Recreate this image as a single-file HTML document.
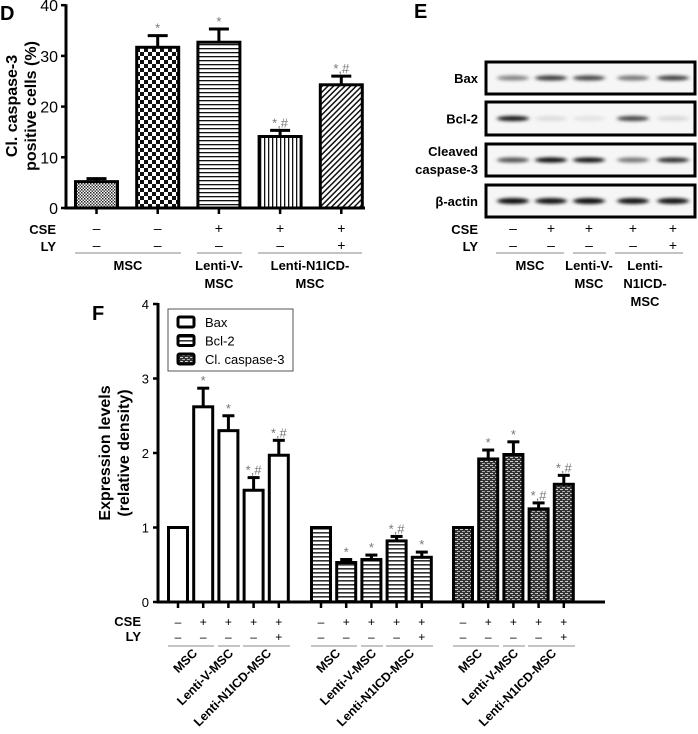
<!DOCTYPE html>
<html><head><meta charset="utf-8"><style>
body{margin:0;background:#fff;}
svg{display:block;font-family:"Liberation Sans",Arial,sans-serif;}
</style></head><body>
<svg id="fig" width="698" height="734" viewBox="0 0 698 734">
<defs>
<pattern id="pFine" width="3" height="3" patternUnits="userSpaceOnUse"><rect width="3" height="3" fill="#fff"/><rect width="1.5" height="1.5" fill="#222"/><rect x="1.5" y="1.5" width="1.5" height="1.5" fill="#444"/></pattern>
<pattern id="pCheck" width="8" height="8" patternUnits="userSpaceOnUse"><rect width="8" height="8" fill="#fff"/><rect width="4" height="4" fill="#111"/><rect x="4" y="4" width="4" height="4" fill="#111"/></pattern>
<pattern id="pHoriz" width="4" height="4" patternUnits="userSpaceOnUse"><rect width="4" height="4" fill="#fff"/><rect y="0" width="4" height="1.3" fill="#111"/></pattern>
<pattern id="pVert" width="4" height="4" patternUnits="userSpaceOnUse"><rect width="4" height="4" fill="#fff"/><rect x="0" width="1.3" height="4" fill="#111"/></pattern>
<pattern id="pDiag" width="4" height="4" patternUnits="userSpaceOnUse" patternTransform="rotate(45)"><rect width="4" height="4" fill="#fff"/><rect width="1.5" height="4" fill="#111"/></pattern>
<pattern id="pHoriz2" width="4" height="4" patternUnits="userSpaceOnUse"><rect width="4" height="4" fill="#fff"/><rect y="0" width="4" height="1.6" fill="#333"/></pattern>
<pattern id="pCasp" width="5" height="4" patternUnits="userSpaceOnUse"><rect width="5" height="4" fill="#333"/><rect x="0" y="1" width="3" height="1" fill="#ccc"/><rect x="2" y="3" width="3" height="1" fill="#aaa"/></pattern>
<filter id="blur" x="-20%" y="-100%" width="140%" height="300%"><feGaussianBlur stdDeviation="2.2 1.6"/></filter>
</defs>
<g id="panelD"></g>
<g id="panelE"></g>
<g id="panelF"></g>
</svg>
<script>
// ---- Panel D data ----
const dCategories = ["MSC","MSC","Lenti-V-MSC","Lenti-N1ICD-MSC","Lenti-N1ICD-MSC"];
const dValues = [5.2, 31.7, 32.7, 14.1, 24.3];
const dErrors = [0.6, 2.3, 2.6, 1.2, 1.7];
const dMarks = ["", "*", "*", "*,#", "*,#"];
const dCSE = ["\u2013","\u2013","+","+","+"];
const dLY = ["\u2013","\u2013","\u2013","\u2013","+"];
const dTicks = [0, 10, 20, 30, 40];
// ---- Panel F data ----
const fSeries = ["Bax","Bcl-2","Cl. caspase-3"];
const fBax = [1, 2.62, 2.30, 1.50, 1.97];
const fBaxErr = [0, 0.25, 0.20, 0.17, 0.20];
const fBcl = [1, 0.53, 0.57, 0.82, 0.60];
const fBclErr = [0, 0.04, 0.06, 0.06, 0.07];
const fCasp = [1, 1.92, 1.98, 1.25, 1.58];
const fCaspErr = [0, 0.12, 0.17, 0.08, 0.12];
const fBaxMarks = ["", "*", "*", "*,#", "*,#"];
const fBclMarks = ["", "*", "*", "*,#", "*"];
const fCaspMarks = ["", "*", "*", "*,#", "*,#"];
const fTicks = [0, 1, 2, 3, 4];
const fCSE = ["\u2013","+","+","+","+"];
const fLY = ["\u2013","\u2013","\u2013","\u2013","+"];
const fLabels = ["MSC","Lenti-V-MSC","Lenti-N1ICD-MSC"];
// ---- Panel E band intensities (0..1) ----
const eRows = ["Bax","Bcl-2","Cleaved caspase-3","\u03b2-actin"];
const eBax = [0.45, 0.75, 0.7, 0.5, 0.72];
const eBcl = [0.9, 0.1, 0.08, 0.7, 0.12];
const eCasp = [0.65, 0.95, 0.92, 0.5, 0.8];
const eActin = [0.95, 0.92, 0.95, 0.92, 0.92];

const NS = "http://www.w3.org/2000/svg";
function mk(parent, tag, attrs, text){
  const e = document.createElementNS(NS, tag);
  for (const k in attrs) e.setAttribute(k, attrs[k]);
  if (text !== undefined) e.textContent = text;
  parent.appendChild(e);
  return e;
}

// ===== Panel D =====
(function(){
  const g = document.getElementById('panelD');
  const y0 = 208, pxPer = 5.07, axX = 66;
  const yD = v => y0 - v * pxPer;
  const xD = i => 96.5 + i * 61.2;
  const pats = ["url(#pFine)","url(#pCheck)","url(#pHoriz)","url(#pVert)","url(#pDiag)"];
  let t = mk(g, 'text', {x: 0, y: 20, 'font-size': 20, 'font-weight': 'bold'}, 'D');
   
  const yl = mk(g, 'text', {transform: 'translate(20,106) rotate(-90)', 'text-anchor': 'middle', 'font-size': 16, 'font-weight': 'bold'});
   
  mk(yl, 'tspan', {x: 0, dy: -3}, 'Cl. caspase-3');
  mk(yl, 'tspan', {x: 0, dy: 19}, 'positive cells (%)');
  mk(g, 'line', {x1: axX, y1: yD(40) - 1, x2: axX, y2: y0 + 1.5, stroke: '#000', 'stroke-width': 3});
  mk(g, 'line', {x1: axX, y1: y0, x2: 365, y2: y0, stroke: '#000', 'stroke-width': 3});
  dTicks.forEach(v => {
    mk(g, 'line', {x1: axX - 5, y1: yD(v), x2: axX, y2: yD(v), stroke: '#000', 'stroke-width': 2.5});
    const tt = mk(g, 'text', {x: 58, y: yD(v) + 6, 'text-anchor': 'end', 'font-size': 16}, String(v));
     
  });
  dValues.forEach((v, i) => {
    const cx = xD(i), w = 42;
    const eb = yD(v + dErrors[i]);
    mk(g, 'line', {x1: cx, y1: eb, x2: cx, y2: yD(v), stroke: '#000', 'stroke-width': 3});
    mk(g, 'line', {x1: cx - 10, y1: eb, x2: cx + 10, y2: eb, stroke: '#000', 'stroke-width': 3});
    const r = mk(g, 'rect', {x: cx - w/2, y: yD(v), width: w, height: y0 - yD(v), fill: pats[i], stroke: '#000', 'stroke-width': 3});
     
    if (dMarks[i]) { const s = mk(g, 'text', {x: cx, y: eb - 3, 'text-anchor': 'middle', 'font-size': 13, fill: '#777'}, dMarks[i]);
        }
    mk(g, 'line', {x1: cx, y1: y0, x2: cx, y2: y0 + 6, stroke: '#000', 'stroke-width': 2.5});
    mk(g, 'text', {x: cx, y: 233, 'text-anchor': 'middle', 'font-size': 14}, dCSE[i]);
    mk(g, 'text', {x: cx, y: 250, 'text-anchor': 'middle', 'font-size': 14}, dLY[i]);
  });
  mk(g, 'text', {x: 56, y: 234, 'text-anchor': 'end', 'font-size': 13, 'font-weight': 'bold'}, 'CSE');
  mk(g, 'text', {x: 56, y: 251, 'text-anchor': 'end', 'font-size': 13, 'font-weight': 'bold'}, 'LY');
  [[75,181],[197,242],[258,362]].forEach(s => mk(g, 'line', {x1: s[0], y1: 253, x2: s[1], y2: 253, stroke: '#888', 'stroke-width': 1}));
  const lab = [[128,['MSC']],[219,['Lenti-V-','MSC']],[310,['Lenti-N1ICD-','MSC']]];
  lab.forEach(l => l[1].forEach((s, j) => {
    const tt = mk(g, 'text', {x: l[0], y: 270 + j * 18, 'text-anchor': 'middle', 'font-size': 13, 'font-weight': 'bold'}, s);
     
  }));
})();

// ===== Panel E =====
(function(){
  const g = document.getElementById('panelE');
  mk(g, 'text', {x: 414, y: 18, 'font-size': 20, 'font-weight': 'bold'}, 'E');
  const boxes = [[62,94],[102,135],[144,176],[185,217]];
  const data = [eBax, eBcl, eCasp, eActin];
  const lanes = [513, 551, 589, 633, 673];
  boxes.forEach((b, r) => {
    mk(g, 'rect', {x: 486, y: b[0], width: 209, height: b[1] - b[0], fill: '#f6f6f6', stroke: '#000', 'stroke-width': 3});
    const cy = (b[0] + b[1]) / 2;
    data[r].forEach((v, i) => {
      const e = mk(g, 'ellipse', {cx: lanes[i], cy: cy, rx: 16, ry: r === 3 ? 3 : 2.6, fill: '#000', 'fill-opacity': v, filter: 'url(#blur)'});
       
    });
    const lines = r === 2 ? ['Cleaved','caspase-3'] : [eRows[r]];
    lines.forEach((s, j) => {
      mk(g, 'text', {x: 478, y: cy + 5 + (lines.length === 2 ? (j ? 9 : -9) : 0), 'text-anchor': 'end', 'font-size': 13, 'font-weight': 'bold'}, s);
    });
  });
  lanes.forEach((x, i) => {
    mk(g, 'text', {x: x, y: 233, 'text-anchor': 'middle', 'font-size': 14}, i > 0 ? '+' : '\u2013');
    mk(g, 'text', {x: x, y: 250, 'text-anchor': 'middle', 'font-size': 14}, dLY[i]);
  });
  mk(g, 'text', {x: 478, y: 234, 'text-anchor': 'end', 'font-size': 13, 'font-weight': 'bold'}, 'CSE');
  mk(g, 'text', {x: 478, y: 251, 'text-anchor': 'end', 'font-size': 13, 'font-weight': 'bold'}, 'LY');
  [[496,564],[573,606],[615,683]].forEach(s => mk(g, 'line', {x1: s[0], y1: 253, x2: s[1], y2: 253, stroke: '#888', 'stroke-width': 1}));
  [[530,['MSC']],[589,['Lenti-V-','MSC']],[645,['Lenti-','N1ICD-','MSC']]].forEach(l => l[1].forEach((s, j) => {
    mk(g, 'text', {x: l[0], y: 270 + j * 18, 'text-anchor': 'middle', 'font-size': 13, 'font-weight': 'bold'}, s);
  }));
})();

// ===== Panel F =====
(function(){
  const g = document.getElementById('panelF');
  const y0 = 602, pxPer = 74.5, axX = 158;
  const yF = v => y0 - v * pxPer;
  const groupStart = [178, 321, 463];
  const xF = (gi, i) => groupStart[gi] + i * 25.2;
  mk(g, 'text', {x: 92, y: 320, 'font-size': 20, 'font-weight': 'bold'}, 'F');
  const yl = mk(g, 'text', {transform: 'translate(113,453) rotate(-90)', 'text-anchor': 'middle', 'font-size': 16, 'font-weight': 'bold'});
   
  mk(yl, 'tspan', {x: 0, dy: -3}, 'Expression levels');
  mk(yl, 'tspan', {x: 0, dy: 19}, '(relative density)');
  mk(g, 'line', {x1: axX, y1: yF(4) - 1, x2: axX, y2: y0 + 1.5, stroke: '#000', 'stroke-width': 3});
  mk(g, 'line', {x1: axX, y1: y0, x2: 605, y2: y0, stroke: '#000', 'stroke-width': 3});
  fTicks.forEach(v => {
    mk(g, 'line', {x1: axX - 5, y1: yF(v), x2: axX, y2: yF(v), stroke: '#000', 'stroke-width': 2.5});
    const tt = mk(g, 'text', {x: 149, y: yF(v) + 5, 'text-anchor': 'end', 'font-size': 13}, String(v));
     
  });
  const series = [[fBax, fBaxErr, fBaxMarks, '#fff'], [fBcl, fBclErr, fBclMarks, 'url(#pHoriz2)'], [fCasp, fCaspErr, fCaspMarks, 'url(#pCasp)']];
  series.forEach((s, gi) => {
    s[0].forEach((v, i) => {
      const cx = xF(gi, i), w = 19;
      if (s[1][i] > 0) {
        const eb = yF(v + s[1][i]);
        mk(g, 'line', {x1: cx, y1: eb, x2: cx, y2: yF(v), stroke: '#000', 'stroke-width': 3});
        mk(g, 'line', {x1: cx - 6, y1: eb, x2: cx + 6, y2: eb, stroke: '#000', 'stroke-width': 3});
      }
      const r = mk(g, 'rect', {x: cx - w/2, y: yF(v), width: w, height: y0 - yF(v), fill: s[3], stroke: '#000', 'stroke-width': 3});
       
      if (s[2][i]) { const m = mk(g, 'text', {x: cx, y: yF(v + s[1][i]) - 3, 'text-anchor': 'middle', 'font-size': 13, fill: '#777'}, s[2][i]);
          }
      mk(g, 'line', {x1: cx, y1: y0, x2: cx, y2: y0 + 6, stroke: '#000', 'stroke-width': 2.5});
      mk(g, 'text', {x: cx, y: 626, 'text-anchor': 'middle', 'font-size': 12}, fCSE[i]);
      mk(g, 'text', {x: cx, y: 641, 'text-anchor': 'middle', 'font-size': 12}, fLY[i]);
    });
    const x0 = xF(gi, 0);
    [[x0 - 10, x0 + 36], [x0 + 40, x0 + 62], [x0 + 65, x0 + 112]].forEach(sg => mk(g, 'line', {x1: sg[0], y1: 646, x2: sg[1], y2: 646, stroke: '#888', 'stroke-width': 1}));
    const ends = [x0 + 20, x0 + 56, x0 + 94];
    fLabels.forEach((lab, j) => {
      const ax = ends[j];
      const tt = mk(g, 'text', {x: ax, y: 654, 'text-anchor': 'end', 'font-size': 12.5, 'font-weight': 'bold', transform: 'rotate(-45 ' + ax + ' 654)'}, lab);
       
    });
  });
  mk(g, 'text', {x: 141, y: 626, 'text-anchor': 'end', 'font-size': 13, 'font-weight': 'bold'}, 'CSE');
  mk(g, 'text', {x: 141, y: 641, 'text-anchor': 'end', 'font-size': 13, 'font-weight': 'bold'}, 'LY');
  // legend
  const lg = mk(g, 'g', {});
   
  mk(lg, 'rect', {x: 168, y: 309, width: 125, height: 62, fill: '#fff', stroke: '#555', 'stroke-width': 1});
  const fills = ['#fff', 'url(#pHoriz2)', 'url(#pCasp)'];
  fSeries.forEach((s, i) => {
    const y = 322 + i * 18.5;
    const sw = mk(lg, 'rect', {x: 178, y: y - 5, width: 16, height: 10, rx: 1.5, fill: fills[i], stroke: '#000', 'stroke-width': 3});
     
    const tt = mk(lg, 'text', {x: 205, y: y + 5, 'font-size': 13}, s);
     
  });
})();
</script>
</body></html>
